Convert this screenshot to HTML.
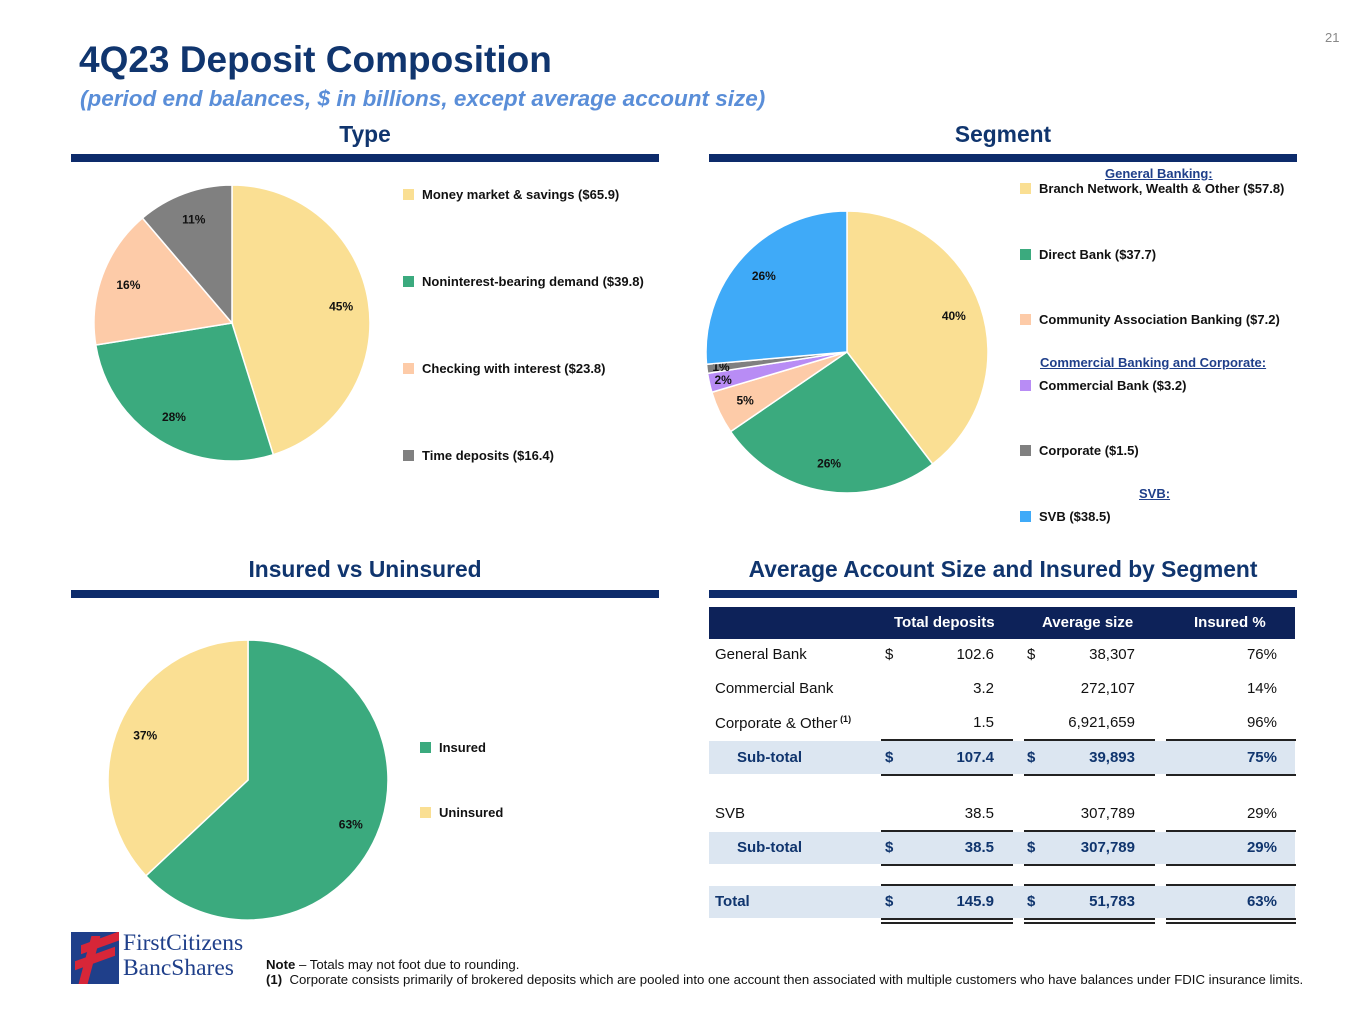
<!DOCTYPE html>
<html><head><meta charset="utf-8">
<style>
body{margin:0;width:1365px;height:1024px;background:#fff;font-family:"Liberation Sans",Arial,sans-serif;position:relative;overflow:hidden}
.a{position:absolute}
.h{font-weight:bold;color:#10356E;font-size:22.8px;text-align:center}
.bar{position:absolute;height:8px;background:#0D2B6B}
.leg{position:absolute;font-size:13px;font-weight:bold;color:#111;white-space:nowrap}
.leg i{display:inline-block;width:11px;height:11px;margin-right:8px;vertical-align:-1px}
.gh{position:absolute;font-size:13px;font-weight:bold;color:#1F3F8A;text-decoration:underline;white-space:nowrap}
.t{position:absolute;font-size:15px;color:#111;white-space:nowrap}
.r{text-align:right}
.b{font-weight:bold;color:#10356E}
.ln{position:absolute;height:2px;background:#222}
</style></head><body>
<div class="a" style="left:1325px;top:30px;font-size:13px;color:#888">21</div>
<div class="a" style="left:79px;top:39px;font-size:37px;font-weight:bold;color:#10356E">4Q23 Deposit Composition</div>
<div class="a" style="left:80px;top:86px;font-size:22.5px;font-weight:bold;font-style:italic;color:#5A8ED8">(period end balances, $ in billions, except average account size)</div>

<div class="a h" style="left:71px;width:588px;top:121px">Type</div>
<div class="bar" style="left:71px;width:588px;top:154px"></div>
<div class="a h" style="left:709px;width:588px;top:121px">Segment</div>
<div class="bar" style="left:709px;width:588px;top:154px"></div>
<div class="a h" style="left:71px;width:588px;top:556px">Insured vs Uninsured</div>
<div class="bar" style="left:71px;width:588px;top:590px"></div>
<div class="a h" style="left:709px;width:588px;top:556px">Average Account Size and Insured by Segment</div>
<div class="bar" style="left:709px;width:588px;top:590px"></div>

<svg class="a" id="pies" style="left:0;top:0" width="1365" height="1024"></svg>

<div class="leg" style="left:403px;top:187px"><i style="background:#FADF93"></i>Money market &amp; savings ($65.9)</div>
<div class="leg" style="left:403px;top:274px"><i style="background:#3BAA7E"></i>Noninterest-bearing demand ($39.8)</div>
<div class="leg" style="left:403px;top:361px"><i style="background:#FDCBA8"></i>Checking with interest ($23.8)</div>
<div class="leg" style="left:403px;top:448px"><i style="background:#808080"></i>Time deposits ($16.4)</div>

<div class="gh" style="left:1105px;top:166px">General Banking:</div>
<div class="leg" style="left:1020px;top:181px"><i style="background:#FADF93"></i>Branch Network, Wealth &amp; Other ($57.8)</div>
<div class="leg" style="left:1020px;top:247px"><i style="background:#3BAA7E"></i>Direct Bank ($37.7)</div>
<div class="leg" style="left:1020px;top:312px"><i style="background:#FDCBA8"></i>Community Association Banking ($7.2)</div>
<div class="gh" style="left:1040px;top:355px">Commercial Banking and Corporate:</div>
<div class="leg" style="left:1020px;top:378px"><i style="background:#B88CF5"></i>Commercial Bank ($3.2)</div>
<div class="leg" style="left:1020px;top:443px"><i style="background:#808080"></i>Corporate ($1.5)</div>
<div class="gh" style="left:1139px;top:486px">SVB:</div>
<div class="leg" style="left:1020px;top:509px"><i style="background:#3FAAF8"></i>SVB ($38.5)</div>

<div class="leg" style="left:420px;top:740px"><i style="background:#3BAA7E"></i>Insured</div>
<div class="leg" style="left:420px;top:805px"><i style="background:#FADF93"></i>Uninsured</div>

<div class="a" style="left:709px;top:607px;width:586px;height:32px;background:#0D2259"></div>
<div class="t" style="left:894px;top:614px;color:#fff;font-weight:bold">Total deposits</div>
<div class="t" style="left:1042px;top:614px;color:#fff;font-weight:bold">Average size</div>
<div class="t" style="left:1194px;top:614px;color:#fff;font-weight:bold">Insured %</div>
<div class="a" style="left:709px;top:741px;width:586px;height:33px;background:#DCE6F1"></div>
<div class="a" style="left:709px;top:832px;width:586px;height:32px;background:#DCE6F1"></div>
<div class="a" style="left:709px;top:886px;width:586px;height:32px;background:#DCE6F1"></div>
<div id="tbl"></div>

<div class="a" style="left:71px;top:932px;width:48px;height:52px;background:#1F3F8A;overflow:hidden">
<div style="position:absolute;left:10px;top:6px;width:40px;height:9px;background:#D72638;transform:skewY(-20deg)"></div>
<div style="position:absolute;left:4px;top:22px;width:40px;height:9px;background:#D72638;transform:skewY(-20deg)"></div>
<div style="position:absolute;left:14px;top:4px;width:9px;height:48px;background:#D72638;transform:skewX(-15deg)"></div>
</div>
<div class="a" style="left:123px;top:931px;font-family:'Liberation Serif',serif;font-size:23.5px;line-height:25px;color:#1F3F8A">FirstCitizens<br>BancShares</div>
<div class="a" style="left:266px;top:957px;font-size:13.2px;color:#111"><b>Note</b> – Totals may not foot due to rounding.</div>
<div class="a" style="left:266px;top:972px;font-size:13.2px;color:#111"><b>(1)</b>&nbsp; Corporate consists primarily of brokered deposits which are pooled into one account then associated with multiple customers who have balances under FDIC insurance limits.</div>

<script>
const typeLabels=["Money market & savings","Noninterest-bearing demand","Checking with interest","Time deposits"];
const typeValues=[65.9,39.8,23.8,16.4];
const typePct=["45%","28%","16%","11%"];
const segLabels=["Branch Network, Wealth & Other","Direct Bank","Community Association Banking","Commercial Bank","Corporate","SVB"];
const segValues=[57.8,37.7,7.2,3.2,1.5,38.5];
const segPct=["40%","26%","5%","2%","1%","26%"];
const insLabels=["Insured","Uninsured"];
const insValues=[63,37];
const insPct=["63%","37%"];
const rowNames=["General Bank","Commercial Bank","Corporate & Other","Sub-total","SVB","Sub-total","Total"];
const rowDeposits=["102.6","3.2","1.5","107.4","38.5","38.5","145.9"];
const rowAvg=["38,307","272,107","6,921,659","39,893","307,789","307,789","51,783"];
const rowIns=["76%","14%","96%","75%","29%","29%","63%"];

const NS="http://www.w3.org/2000/svg";
const svg=document.getElementById('pies');
function pie(cx,cy,r,vals,colors,pcts,name){
  const tot=vals.reduce((a,b)=>a+b,0);let a0=-Math.PI/2;
  vals.forEach((v,i)=>{
    const a1=a0+v/tot*2*Math.PI;
    const large=(a1-a0)>Math.PI?1:0;
    const p=document.createElementNS(NS,'path');
    p.setAttribute('d',`M${cx},${cy}L${cx+r*Math.cos(a0)},${cy+r*Math.sin(a0)}A${r},${r} 0 ${large} 1 ${cx+r*Math.cos(a1)},${cy+r*Math.sin(a1)}Z`);
    p.setAttribute('fill',colors[i]);p.setAttribute('stroke','#fff');p.setAttribute('stroke-width','1.5');
    
    
    svg.appendChild(p);
    const m=(a0+a1)/2;const frac=v/tot<0.03?0.9:0.8;
    const t=document.createElementNS(NS,'text');
    t.setAttribute('x',cx+r*frac*Math.cos(m));t.setAttribute('y',cy+r*frac*Math.sin(m)+4);
    t.setAttribute('text-anchor','middle');t.setAttribute('font-size','12');t.setAttribute('font-weight','bold');
    t.setAttribute('font-family','Liberation Sans, sans-serif');t.setAttribute('fill','#111');
    
    
    t.textContent=pcts[i];svg.appendChild(t);
    a0=a1;
  });
}
pie(232,323,138,typeValues,["#FADF93","#3BAA7E","#FDCBA8","#808080"],typePct,'type-pie');
pie(847,352,141,segValues,["#FADF93","#3BAA7E","#FDCBA8","#B88CF5","#808080","#3FAAF8"],segPct,'segment-pie');
pie(248,780,140,insValues,["#3BAA7E","#FADF93"],insPct,'insured-pie');

const tbl=document.getElementById('tbl');
const ys=[646,680,714,749,805,839,893];
const bold=[false,false,false,true,false,true,true];
const dollar=[true,false,false,true,false,true,true];
function add(html,style,cls,name){
  const d=document.createElement('div');d.className='t '+cls;d.style.cssText=style;d.innerHTML=html;
  
  
  tbl.appendChild(d);
}
rowNames.forEach((n,i)=>{
  const c=bold[i]?'b':'';
  const lx=(n==='Sub-total')?737:715;
  let lab=n;if(n==='Corporate & Other')lab='Corporate &amp; Other<sup style="font-size:9px;font-weight:bold"> (1)</sup>';
  add(lab,`left:${lx}px;top:${ys[i]}px`,c,'row-label-'+i);
  if(dollar[i]){add('$',`left:885px;top:${ys[i]}px`,c,'row-dollar1-'+i);add('$',`left:1027px;top:${ys[i]}px`,c,'row-dollar2-'+i);}
  add(rowDeposits[i],`left:900px;width:94px;top:${ys[i]}px`,'r '+c,'row-deposits-'+i);
  add(rowAvg[i],`left:1040px;width:95px;top:${ys[i]}px`,'r '+c,'row-avg-'+i);
  add(rowIns[i],`left:1180px;width:97px;top:${ys[i]}px`,'r '+c,'row-insured-'+i);
});
const cols=[[881,132],[1024,131],[1166,130]];
[739,774,830,864,884,918,922].forEach((y,j)=>{
  cols.forEach((c,k)=>{
    const d=document.createElement('div');d.className='ln';d.style.cssText=`left:${c[0]}px;width:${c[1]}px;top:${y}px`;
    
    
    tbl.appendChild(d);
  });
});
</script>
</body></html>
